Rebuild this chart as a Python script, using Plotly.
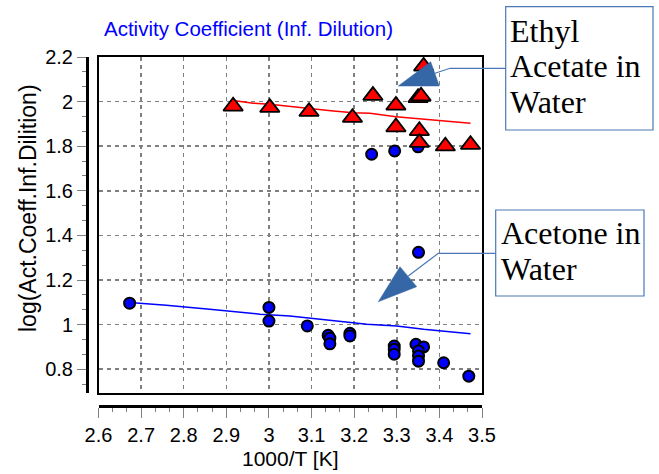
import plotly.graph_objects as go

# ---------------- data ----------------
ea_x = [2.916, 3.002, 3.094, 3.196, 3.244, 3.298, 3.298, 3.350, 3.357, 3.363, 3.353, 3.353, 3.414, 3.473]
ea_y = [1.979, 1.973, 1.955, 1.928, 2.027, 1.983, 1.886, 2.017, 2.024, 2.158, 1.869, 1.816, 1.800, 1.807]

ac_x = [2.673, 3.000, 3.000, 3.090, 3.139, 3.143, 3.143, 3.190, 3.190,
        3.241, 3.295, 3.350,
        3.351, 3.294, 3.294, 3.294, 3.345, 3.363, 3.351, 3.351, 3.351, 3.410, 3.469]
ac_y = [1.096, 1.077, 1.016, 0.994, 0.952, 0.939, 0.914, 0.961, 0.949,
        1.764, 1.779, 1.797,
        1.324, 0.904, 0.889, 0.867, 0.912, 0.900, 0.882, 0.859, 0.836, 0.829, 0.769]

ea_fit_x = [2.916, 2.963, 3.002, 3.053, 3.096, 3.151, 3.198, 3.237, 3.298, 3.402, 3.473]
ea_fit_y = [2.005, 1.993, 1.988, 1.977, 1.970, 1.958, 1.950, 1.948, 1.932, 1.914, 1.903]

ac_fit_x = [2.673, 2.759, 2.861, 2.979, 3.049, 3.151, 3.230, 3.300, 3.363, 3.473]
ac_fit_y = [1.099, 1.087, 1.069, 1.047, 1.039, 1.020, 1.002, 0.994, 0.979, 0.959]

x_range = [2.6, 3.5]
y_range = [0.692, 2.2]

title_text = "Activity Coefficient (Inf. Dilution)"
x_title = "1000/T [K]"
y_title = "log(Act.Coeff.Inf.Dilition)"
ea_label = ["Ethyl", "Acetate in", "Water"]
ac_label = ["Acetone in", "Water"]

# ---------------- layout geometry (window pixels) ----------------
W, H = 659, 474
ML, MR, MT, MB = 87, 177, 57, 68
PW = W - ML - MR
PH = H - MT - MB


def px(x):
    return (x - ML) / PW


def py(y):
    return (H - MB - y) / PH


xdom = [px(98.5), 1.0]
ydom = [py(393.3), 1.0]

fig = go.Figure()

fig.add_trace(go.Scatter(x=ea_fit_x, y=ea_fit_y, mode="lines",
                         line=dict(color="#ff0000", width=1.5), showlegend=False))
fig.add_trace(go.Scatter(x=ac_fit_x, y=ac_fit_y, mode="lines",
                         line=dict(color="#0000ff", width=1.5), showlegend=False))
fig.add_trace(go.Scatter(x=ac_x, y=ac_y, mode="markers",
                         marker=dict(symbol="circle", size=11, color="#0000ff",
                                     line=dict(color="black", width=2)),
                         showlegend=False))
fig.add_trace(go.Scatter(x=ea_x, y=ea_y, mode="markers",
                         marker=dict(symbol="triangle-up", size=17, color="#ff0000",
                                     line=dict(color="black", width=1.8)),
                         showlegend=False))
# carrier for the outer (offset) axes
fig.add_trace(go.Scatter(x=[None], y=[None], xaxis="x2", yaxis="y2",
                         showlegend=False, hoverinfo="skip"))

grid = dict(showgrid=True, gridcolor="#808080", gridwidth=1.5, griddash="4px,4px")
tickfont = dict(family="Liberation Sans, Arial", size=20, color="black")

fig.update_layout(
    width=W, height=H,
    margin=dict(l=ML, r=MR, t=MT, b=MB, pad=0),
    paper_bgcolor="white", plot_bgcolor="white",
    showlegend=False,
    xaxis=dict(domain=xdom, range=x_range, tick0=2.6, dtick=0.1, ticks="",
               showticklabels=False, zeroline=False, showline=True, mirror=True,
               linecolor="black", linewidth=2, anchor="y", **grid),
    yaxis=dict(domain=ydom, range=y_range, tick0=0.8, dtick=0.2, ticks="",
               showticklabels=False, zeroline=False, showline=True, mirror=True,
               linecolor="black", linewidth=2, anchor="x", **grid),
    xaxis2=dict(domain=xdom, range=x_range, overlaying="x", anchor="free", position=0,
                tick0=2.6, dtick=0.1, ticks="outside", ticklen=10, tickwidth=1,
                tickcolor="#808080", showline=True, linecolor="black", linewidth=3,
                showgrid=False, zeroline=False, tickfont=tickfont,
                minor=dict(tick0=2.6, dtick=0.1 / 3, ticks="outside", ticklen=4,
                           tickcolor="#808080", tickwidth=1, showgrid=False)),
    yaxis2=dict(domain=ydom, range=y_range, overlaying="y", anchor="free", position=0,
                side="left", tick0=0.8, dtick=0.2, ticks="outside", ticklen=9, tickwidth=1,
                tickcolor="#808080", showline=True, linecolor="black", linewidth=3,
                showgrid=False, zeroline=False, tickfont=tickfont,
                minor=dict(tick0=0.8, dtick=0.2 / 3, ticks="outside", ticklen=4,
                           tickcolor="#808080", tickwidth=1, showgrid=False)),
)

annots = []
annots.append(dict(text=title_text, xref="paper", yref="paper", x=px(102), y=py(29),
                   xanchor="left", yanchor="middle", showarrow=False,
                   font=dict(family="Liberation Sans, Arial", size=20.5, color="#0000ff")))
annots.append(dict(text=x_title, xref="paper", yref="paper", x=px(290), y=py(458),
                   xanchor="center", yanchor="middle", showarrow=False,
                   font=dict(family="Liberation Sans, Arial", size=21, color="black")))
annots.append(dict(text=y_title, xref="paper", yref="paper", x=px(28), y=py(208),
                   xanchor="center", yanchor="middle", showarrow=False, textangle=-90,
                   font=dict(family="Liberation Sans, Arial", size=23, color="black")))

serif = dict(family="Liberation Serif, Times New Roman", size=32, color="black")
for txt, cy in zip(ea_label, [30.9, 65.9, 102.2]):
    annots.append(dict(text=txt, xref="paper", yref="paper", x=px(509), y=py(cy),
                       xanchor="left", yanchor="middle", showarrow=False, font=serif,
                       borderpad=0))
for txt, cy in zip(ac_label, [232.5, 269.2]):
    annots.append(dict(text=txt, xref="paper", yref="paper", x=px(500), y=py(cy),
                       xanchor="left", yanchor="middle", showarrow=False, font=serif,
                       borderpad=0))
fig.update_layout(annotations=annots)

box_col = "#4a78b6"
arrow_col = "#3566a6"
shapes = []
shapes.append(dict(type="rect", xref="paper", yref="paper", x0=px(505.7), x1=px(653),
                   y0=py(6.7), y1=py(130), line=dict(color=box_col, width=1.2)))
shapes.append(dict(type="rect", xref="paper", yref="paper", x0=px(495.7), x1=px(644),
                   y0=py(210), y1=py(296), line=dict(color=box_col, width=1.2)))


def path(pts, close=False):
    s = "M " + " L ".join(f"{px(a):.5f},{py(b):.5f}" for a, b in pts)
    return s + (" Z" if close else "")


shapes.append(dict(type="path", xref="paper", yref="paper",
                   path=path([(505.7, 68.3), (450, 68.3), (435, 73.3)]),
                   line=dict(color=box_col, width=1.2)))
shapes.append(dict(type="path", xref="paper", yref="paper",
                   path=path([(398.3, 86), (430.7, 61.7), (439.3, 86)], close=True),
                   fillcolor=arrow_col, line=dict(color=arrow_col, width=0.5)))
shapes.append(dict(type="path", xref="paper", yref="paper",
                   path=path([(495.7, 253.3), (438.3, 253.3), (408.3, 276)]),
                   line=dict(color=box_col, width=1.2)))
shapes.append(dict(type="path", xref="paper", yref="paper",
                   path=path([(378.3, 301.7), (400, 266.7), (416.7, 286.7)], close=True),
                   fillcolor=arrow_col, line=dict(color=arrow_col, width=0.5)))
fig.update_layout(shapes=shapes)

# remove the browser's default 8px body margin so the figure sits at (0, 0)
fig.write_html("out.html",
               config={"displayModeBar": False, "staticPlot": True},
               post_script="document.body.style.margin='0';"
                           "document.body.style.overflow='hidden';")
